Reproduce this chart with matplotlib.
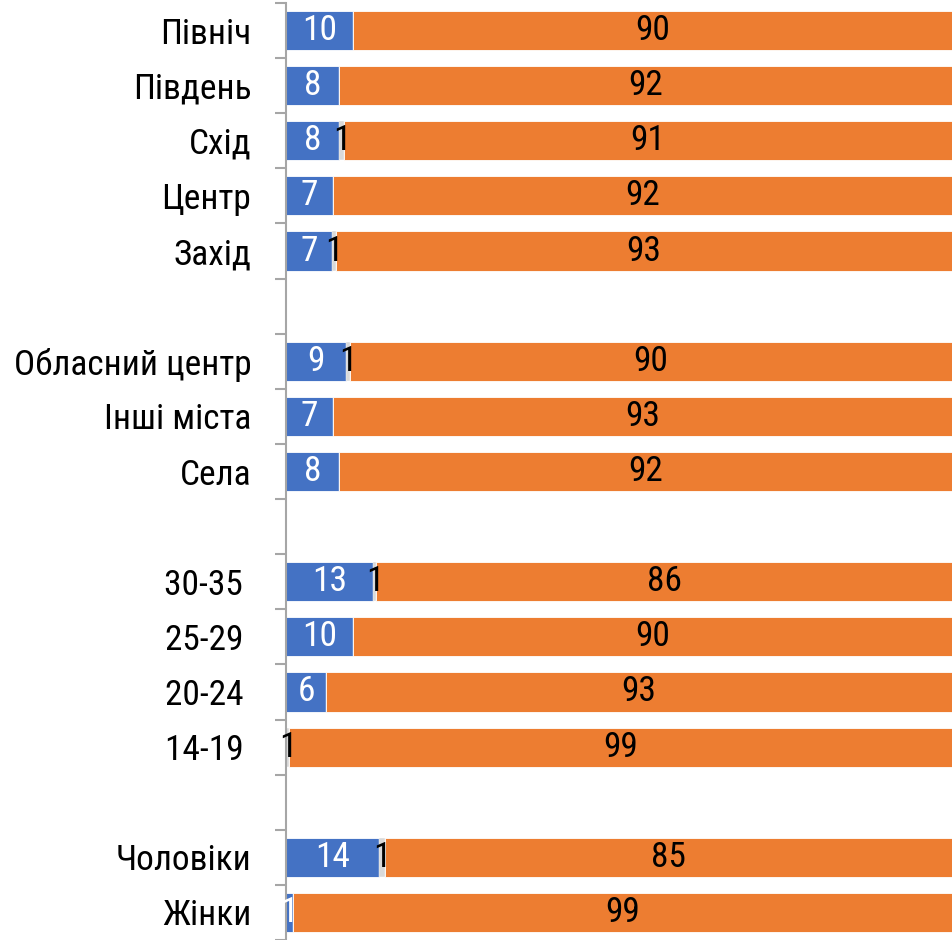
import numpy as np
import matplotlib
matplotlib.use("Agg")
import matplotlib.pyplot as plt

# Categories, top to bottom ('' = empty spacer row)
categories = ['Північ', 'Південь', 'Схід', 'Центр', 'Захід', '',
              'Обласний центр', 'Інші міста', 'Села', '',
              '30-35 ', '25-29 ', '20-24 ', '14-19 ', '',
              'Чоловіки', 'Жінки']

blue = [10, 8, 8, 7, 7, 0, 9, 7, 8, 0, 13, 10, 6, 0, 0, 14, 1]
gray = [0, 0, 0.6, 0, 0.5, 0, 0.6, 0, 0, 0, 0.5, 0, 0, 0.5, 0, 0.8, 0]
orange = [90, 92, 91, 92, 93, 0, 90, 93, 92, 0, 86, 90, 93, 99, 0, 85, 99]

BLUE = '#4472C4'
GRAY = '#D9D9D9'
ORANGE = '#ED7D31'

plt.rcParams['font.family'] = ['Roboto Condensed', 'DejaVu Sans']
FS = 25.5

fig = plt.figure(figsize=(9.53, 9.40), dpi=100)
ax = fig.add_axes([286 / 953, 0.0, 666 / 953, 1 - 3 / 940])

b = np.array(blue, dtype=float)
g = np.array(gray, dtype=float)
o = np.array(orange, dtype=float)
total = b + g + o
total[total == 0] = 1
# 100% stacked: each row is scaled to its own total
bp, gp, op = b / total * 100, g / total * 100, o / total * 100

y = np.arange(len(categories))
h = 0.71
rb = ax.barh(y, bp, height=h, color=BLUE, edgecolor='white', linewidth=0.6)
rg = ax.barh(y, gp, left=bp, height=h, color=GRAY, edgecolor='white', linewidth=0.3)
ro = ax.barh(y, op, left=bp + gp, height=h, color=ORANGE, edgecolor='white', linewidth=0.6)

def lbl(vals, ceil=False):
    out = []
    for v in vals:
        if v <= 0:
            out.append('')
        else:
            out.append(str(int(np.ceil(v))) if ceil else f'{v:.0f}')
    return out

ax.bar_label(rb, labels=lbl(b), label_type='center', color='white', fontsize=FS)
ax.bar_label(rg, labels=lbl(g, ceil=True), label_type='center', color='black', fontsize=FS)
ax.bar_label(ro, labels=lbl(o), label_type='center', color='black', fontsize=FS)

ax.set_xlim(0, 100)
ax.set_ylim(len(categories) - 0.5, -0.5)

ax.set_yticks(y)
ax.set_yticklabels(categories, fontsize=FS)
ax.set_yticks(np.arange(len(categories) + 1) - 0.5, minor=True)
ax.tick_params(axis='y', which='major', length=0, pad=25)
ax.tick_params(axis='y', which='minor', length=8, width=1.5, color='#A6A6A6')
ax.set_xticks([])

for s in ['top', 'right', 'bottom']:
    ax.spines[s].set_visible(False)
ax.spines['left'].set_color('#A6A6A6')
ax.spines['left'].set_linewidth(1.5)

fig.savefig('out.png', dpi=100)
